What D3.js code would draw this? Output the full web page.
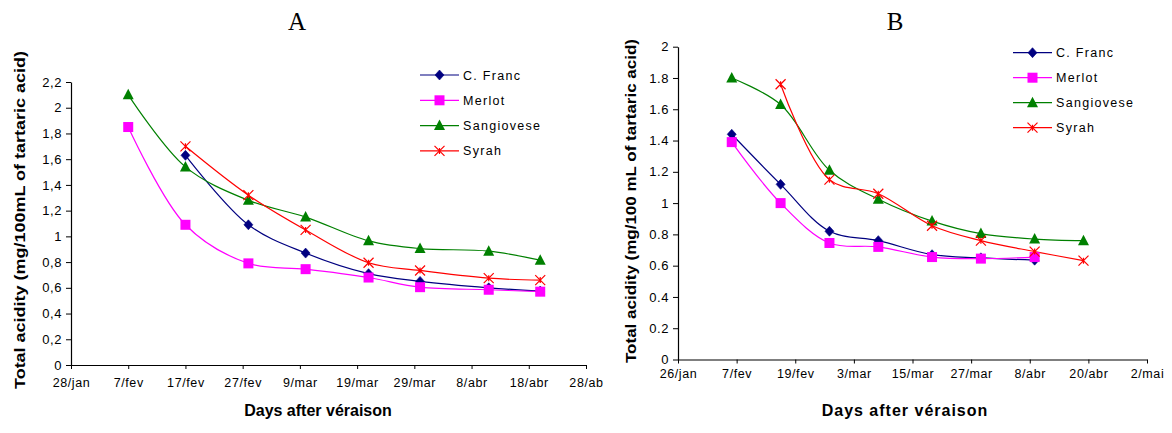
<!DOCTYPE html>
<html>
<head>
<meta charset="utf-8">
<script src="https://cdn.jsdelivr.net/npm/d3@7"></script>
<style>
  html, body { margin: 0; padding: 0; background: #fff; }
  svg { display: block; }
</style>
</head>
<body>
<svg id="chart" width="1172" height="433"></svg>
<script>
// ---- Data: total acidity (mg/100 mL of tartaric acid) by sampling date ----
const varieties = ["C. Franc", "Merlot", "Sangiovese", "Syrah"];
const colors = ["#000080", "#FF00FF", "#008000", "#FF0000"];
const markers = ["diamond", "square", "triangle", "cross"];

// Panel A
const datesA_cf = ["17/fev", "28/fev", "10/mar", "21/mar", "30/mar", "11/abr", "20/abr"];
const valuesA_cf = [1.63, 1.09, 0.87, 0.71, 0.65, 0.60, 0.575];
const datesA_me = ["7/fev", "17/fev", "28/fev", "10/mar", "21/mar", "30/mar", "11/abr", "20/abr"];
const valuesA_me = [1.85, 1.09, 0.79, 0.745, 0.68, 0.605, 0.585, 0.57];
const datesA_sa = ["7/fev", "17/fev", "28/fev", "10/mar", "21/mar", "30/mar", "11/abr", "20/abr"];
const valuesA_sa = [2.10, 1.54, 1.28, 1.15, 0.965, 0.905, 0.885, 0.815];
const datesA_sy = ["17/fev", "28/fev", "10/mar", "21/mar", "30/mar", "11/abr", "20/abr"];
const valuesA_sy = [1.70, 1.32, 1.05, 0.795, 0.735, 0.675, 0.66];

// Panel B
const datesB_cf = ["6/fev", "16/fev", "26/fev", "8/mar", "19/mar", "29/mar", "9/abr"];
const valuesB_cf = [1.44, 1.12, 0.82, 0.76, 0.67, 0.65, 0.635];
const datesB_me = ["6/fev", "16/fev", "26/fev", "8/mar", "19/mar", "29/mar", "9/abr"];
const valuesB_me = [1.39, 1.00, 0.745, 0.72, 0.655, 0.645, 0.655];
const datesB_sa = ["6/fev", "16/fev", "26/fev", "8/mar", "19/mar", "29/mar", "9/abr", "19/abr"];
const valuesB_sa = [1.80, 1.63, 1.21, 1.025, 0.885, 0.805, 0.77, 0.76];
const datesB_sy = ["16/fev", "26/fev", "8/mar", "19/mar", "29/mar", "9/abr", "19/abr"];
const valuesB_sy = [1.76, 1.15, 1.06, 0.855, 0.76, 0.69, 0.632];

// Axis ticks
const xTicksA = ["28/jan", "7/fev", "17/fev", "27/fev", "9/mar", "19/mar", "29/mar", "8/abr", "18/abr", "28/abr"];
const xTickLabelsA = ["28/jan", "7/fev", "17/fev", "27/fev", "9/mar", "19/mar", "29/mar", "8/abr", "18/abr", "28/ab"];
const yTicksA = [0, 0.2, 0.4, 0.6, 0.8, 1, 1.2, 1.4, 1.6, 1.8, 2, 2.2];
const yTickLabelsA = ["0", "0,2", "0,4", "0,6", "0,8", "1", "1,2", "1,4", "1,6", "1,8", "2", "2,2"];
const xTicksB = ["26/jan", "7/fev", "19/fev", "3/mar", "15/mar", "27/mar", "8/abr", "20/abr", "2/mai"];
const yTicksB = [0, 0.2, 0.4, 0.6, 0.8, 1, 1.2, 1.4, 1.6, 1.8, 2];
const yTickLabelsB = ["0", "0.2", "0.4", "0.6", "0.8", "1", "1.2", "1.4", "1.6", "1.8", "2"];

// ---- Helpers ----
const SANS = "Arial, 'Liberation Sans', sans-serif";
const SERIF = "'Liberation Serif', 'Times New Roman', serif";
const monthNames = ["jan", "fev", "mar", "abr", "mai"];
function parseDay(s) {
  const [d, m] = s.split("/");
  return new Date(2005, monthNames.indexOf(m), +d);
}
function zipSeries(dates, values) {
  return dates.map((d, i) => ({ date: parseDay(d), value: values[i] }));
}

const svg = d3.select("#chart");
svg.append("rect").attr("width", 1172).attr("height", 433).attr("fill", "#fff");

function drawMarker(g, type, color, x, y) {
  if (type === "diamond") {
    g.append("path")
      .attr("d", `M${x},${y - 5}L${x + 4.5},${y}L${x},${y + 5}L${x - 4.5},${y}Z`)
      .attr("fill", color).attr("stroke", color).attr("stroke-width", 0.6);
  } else if (type === "square") {
    g.append("rect").attr("x", x - 5).attr("y", y - 5).attr("width", 10).attr("height", 10)
      .attr("fill", color);
  } else if (type === "triangle") {
    g.append("path")
      .attr("d", `M${x},${y - 6}L${x + 5.5},${y + 4.5}L${x - 5.5},${y + 4.5}Z`)
      .attr("fill", color);
  } else {
    g.append("path")
      .attr("d", `M${x - 5},${y - 5}L${x + 5},${y + 5}M${x - 5},${y + 5}L${x + 5},${y - 5}M${x},${y - 3}L${x},${y + 3}`)
      .attr("stroke", color).attr("stroke-width", 1.2).attr("fill", "none");
  }
}

function drawPanel(cfg) {
  const g = svg.append("g");
  const x = d3.scaleTime()
    .domain([parseDay(cfg.xTicks[0]), parseDay(cfg.xTicks[cfg.xTicks.length - 1])])
    .range(cfg.xRange);
  const y = d3.scaleLinear().domain(cfg.yDomain).range(cfg.yRange);

  // x axis
  const xAxis = d3.axisBottom(x)
    .tickValues(cfg.xTicks.map(parseDay))
    .tickFormat((d, i) => cfg.xLabels[i])
    .tickSize(4).tickSizeOuter(0).tickPadding(cfg.xPad);
  const gx = g.append("g").attr("transform", `translate(0,${cfg.yRange[0]})`).call(xAxis);
  gx.selectAll("text").attr("font-size", 12.5).attr("letter-spacing", cfg.tickSpacing)
    .style("font-family", SANS).attr("fill", "#000");

  // y axis
  const yAxis = d3.axisLeft(y)
    .tickValues(cfg.yTicks)
    .tickFormat((d, i) => cfg.yLabels[i])
    .tickSize(5).tickSizeOuter(0).tickPadding(4);
  const gy = g.append("g").attr("transform", `translate(${cfg.xRange[0]},0)`).call(yAxis);
  gy.selectAll("text").attr("font-size", 13).attr("letter-spacing", cfg.tickSpacing)
    .style("font-family", SANS).attr("fill", "#000");

  g.selectAll(".domain").attr("stroke", "#000").attr("stroke-width", 1.2);
  g.selectAll(".tick line").attr("stroke", "#000");

  // series lines and markers
  const line = d3.line()
    .x(d => x(d.date)).y(d => y(d.value))
    .curve(d3.curveCatmullRom.alpha(0.5));
  cfg.series.forEach((s, i) => {
    g.append("path").datum(s)
      .attr("d", line).attr("fill", "none")
      .attr("stroke", colors[i]).attr("stroke-width", 1.2);
  });
  cfg.series.forEach((s, i) => {
    s.forEach(p => drawMarker(g, markers[i], colors[i], x(p.date), y(p.value)));
  });

  // legend
  varieties.forEach((name, i) => {
    const ly = cfg.legend.y + i * cfg.legend.step;
    g.append("line")
      .attr("x1", cfg.legend.x).attr("x2", cfg.legend.x + 39)
      .attr("y1", ly).attr("y2", ly)
      .attr("stroke", colors[i]).attr("stroke-width", 1.2);
    drawMarker(g, markers[i], colors[i], cfg.legend.x + 19.5, ly);
    g.append("text")
      .attr("x", cfg.legend.x + 43).attr("y", ly + 4.5)
      .style("font-family", SANS)
      .attr("font-size", 12.5).attr("letter-spacing", 1.3)
      .text(name);
  });

  // panel title
  g.append("text")
    .attr("x", cfg.titleX).attr("y", 30)
    .attr("text-anchor", "middle")
    .style("font-family", SERIF)
    .attr("font-size", 25)
    .text(cfg.title);

  // y axis title
  g.append("text")
    .attr("transform", `translate(${cfg.yTitle.x},${cfg.yTitle.y}) rotate(-90)`)
    .attr("text-anchor", "middle")
    .style("font-family", SANS)
    .attr("font-weight", "bold").attr("font-size", cfg.yTitle.size)
    .attr("textLength", cfg.yTitle.length).attr("lengthAdjust", "spacingAndGlyphs")
    .text(cfg.yTitle.text);

  // x axis title
  g.append("text")
    .attr("x", cfg.xTitle.x).attr("y", 416)
    .attr("text-anchor", "middle")
    .style("font-family", SANS)
    .attr("font-weight", "bold").attr("font-size", 16)
    .attr("letter-spacing", cfg.xTitle.spacing)
    .text("Days after véraison");
}

drawPanel({
  title: "A", titleX: 297,
  xRange: [71, 586], yRange: [365, 82], yDomain: [0, 2.2],
  xTicks: xTicksA, xLabels: xTickLabelsA, xPad: 9,
  yTicks: yTicksA, yLabels: yTickLabelsA, tickSpacing: 0.6,
  series: [
    zipSeries(datesA_cf, valuesA_cf),
    zipSeries(datesA_me, valuesA_me),
    zipSeries(datesA_sa, valuesA_sa),
    zipSeries(datesA_sy, valuesA_sy)
  ],
  legend: { x: 420, y: 75, step: 25.3 },
  yTitle: { x: 25, y: 220, size: 15, length: 338, text: "Total acidity (mg/100mL of tartaric acid)" },
  xTitle: { x: 318, spacing: 0 }
});

drawPanel({
  title: "B", titleX: 895,
  xRange: [678, 1147], yRange: [359.5, 46.7], yDomain: [0, 2],
  xTicks: xTicksB, xLabels: xTicksB, xPad: 6,
  yTicks: yTicksB, yLabels: yTickLabelsB, tickSpacing: 0.6,
  series: [
    zipSeries(datesB_cf, valuesB_cf),
    zipSeries(datesB_me, valuesB_me),
    zipSeries(datesB_sa, valuesB_sa),
    zipSeries(datesB_sy, valuesB_sy)
  ],
  legend: { x: 1013, y: 52.7, step: 25 },
  yTitle: { x: 636, y: 201, size: 15, length: 324, text: "Total acidity (mg/100 mL of tartaric acid)" },
  xTitle: { x: 905, spacing: 1 }
});
</script>
</body>
</html>
